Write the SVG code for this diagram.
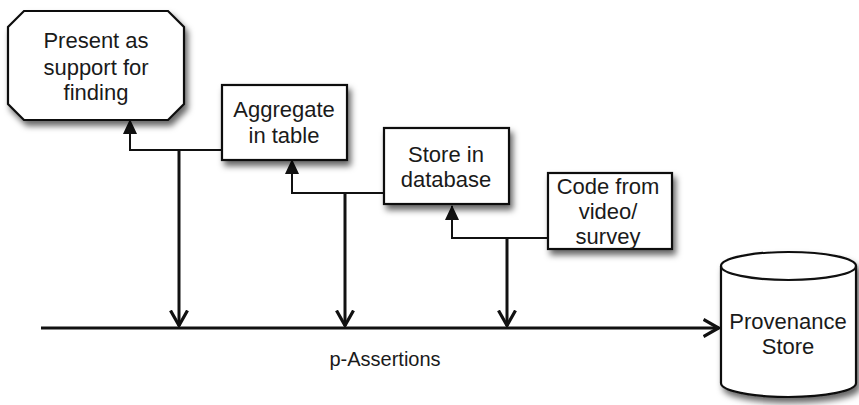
<svg xmlns="http://www.w3.org/2000/svg" width="859" height="405" viewBox="0 0 859 405">
<style>
.node{fill:#fff;stroke:#111;stroke-width:2.2;filter:url(#sh)}
.t{font-family:"Liberation Sans",Arial,sans-serif;font-size:22px;fill:#1a1a1a;text-anchor:middle}
.link{fill:none;stroke:#111;stroke-width:2}
.drop{fill:none;stroke:#111;stroke-width:3}
</style>
<defs>
<filter id="sh" x="-20%" y="-20%" width="150%" height="150%">
<feDropShadow dx="3" dy="5" stdDeviation="3" flood-color="#000" flood-opacity="0.6"/>
</filter>
<marker id="tri" markerWidth="15" markerHeight="14" viewBox="0 0 15 14" refX="14" refY="7" orient="auto" markerUnits="userSpaceOnUse">
<path d="M0,0 L15,7 L0,14 Z" fill="#111"/>
</marker>
<marker id="vee" markerWidth="18" markerHeight="20" viewBox="0 0 18 20" refX="16.5" refY="10" orient="auto" markerUnits="userSpaceOnUse">
<path d="M1,1.5 L16,10 L1,18.5" fill="none" stroke="#111" stroke-width="3.2"/>
</marker>
</defs>
<rect width="859" height="405" fill="#fff"/>

<g id="connectors">
<path class="link" d="M222,150 H130 V120" marker-end="url(#tri)"/>
<path class="drop" d="M179,150 V326" marker-end="url(#vee)"/>
<path class="link" d="M384,193 H292 V160" marker-end="url(#tri)"/>
<path class="drop" d="M345,193 V326" marker-end="url(#vee)"/>
<path class="link" d="M548,236 V238 H452 V206" marker-end="url(#tri)"/>
<path class="drop" d="M507,238 V326" marker-end="url(#vee)"/>
<path class="drop" d="M41,328 H719" marker-end="url(#vee)"/>
<text class="t" x="385" y="366" style="font-size:20px">p-Assertions</text>
</g>

<g id="present">
<path class="node" d="M24,11 H168 L184,27 V104 L168,120 H24 L8,104 V27 Z"/>
<text class="t" x="96" y="48">Present as</text>
<text class="t" x="96" y="75">support for</text>
<text class="t" x="96" y="100">finding</text>
</g>

<g id="aggregate">
<rect class="node" x="222" y="85" width="125" height="75"/>
<text class="t" x="284" y="117">Aggregate</text>
<text class="t" x="284" y="143">in table</text>
</g>

<g id="store">
<rect class="node" x="384" y="128" width="125" height="76"/>
<text class="t" x="446" y="162">Store in</text>
<text class="t" x="446" y="187">database</text>
</g>

<g id="code">
<rect class="node" x="548" y="173" width="124" height="76"/>
<text class="t" x="608" y="194">Code from</text>
<text class="t" x="608" y="219">video/</text>
<text class="t" x="608" y="244">survey</text>
</g>

<g id="provenance">
<path class="node" d="M721,266 V383 A67.5,14 0 0 0 856,383 V266 A67.5,14 0 0 0 721,266 Z"/>
<path d="M721,266 A67.5,14 0 0 0 856,266" fill="none" stroke="#111" stroke-width="2.2"/>
<text class="t" x="788" y="329">Provenance</text>
<text class="t" x="788" y="354">Store</text>
</g>
</svg>
